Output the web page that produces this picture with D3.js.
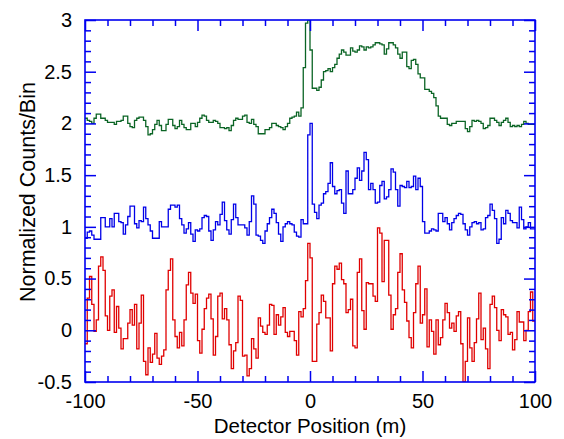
<!DOCTYPE html>
<html>
<head>
<meta charset="utf-8">
<script src="https://cdn.jsdelivr.net/npm/d3@7"></script>
<style>
body { margin: 0; background: #fff; }
svg { font-family: "Liberation Sans", Arial, sans-serif; }
</style>
</head>
<body>
<div id="chart"></div>
<script>
'use strict';

// bins of 1 m, from -100 to 100 (200 bins per trace)
var binStart = -100;
var binWidth = 1;

// green trace (offset around 2)
var greenCounts = [
	2.05, 2.03, 2.02, 2.00, 2.05, 2.09, 2.09, 2.05, 2.05, 2.03,
	2.01, 2.01, 2.01, 1.99, 2.02, 2.02, 2.03, 2.07, 2.07, 2.00,
	1.97, 1.96, 2.03, 2.05, 2.06, 2.06, 2.03, 1.97, 1.89, 1.90,
	1.94, 1.99, 2.03, 1.98, 1.93, 1.93, 1.99, 2.04, 2.04, 1.98,
	1.95, 1.97, 2.03, 1.99, 1.96, 1.94, 1.94, 2.00, 2.00, 1.97,
	2.01, 2.05, 2.08, 2.07, 2.03, 2.01, 2.01, 2.03, 2.02, 2.00,
	1.96, 1.96, 1.95, 1.96, 1.93, 1.98, 2.03, 2.05, 2.04, 2.04,
	2.07, 2.08, 2.01, 2.00, 2.04, 1.99, 1.97, 1.90, 1.90, 1.90,
	1.94, 1.94, 1.96, 2.00, 2.00, 1.98, 1.97, 1.96, 1.94, 1.97,
	2.00, 2.05, 2.06, 2.07, 2.11, 2.07, 2.15, 2.54, 2.97, 3.00,
	2.71, 2.34, 2.34, 2.32, 2.35, 2.42, 2.50, 2.51, 2.53, 2.50,
	2.54, 2.57, 2.63, 2.67, 2.71, 2.69, 2.66, 2.66, 2.73, 2.70,
	2.69, 2.71, 2.75, 2.74, 2.71, 2.74, 2.73, 2.74, 2.76, 2.78,
	2.78, 2.77, 2.76, 2.67, 2.72, 2.78, 2.78, 2.76, 2.73, 2.67,
	2.63, 2.69, 2.69, 2.55, 2.53, 2.61, 2.62, 2.57, 2.48, 2.44,
	2.44, 2.33, 2.33, 2.31, 2.29, 2.25, 2.17, 2.07, 2.05, 2.05,
	2.05, 1.99, 1.98, 2.00, 2.00, 2.02, 2.02, 2.02, 2.02, 1.95,
	1.92, 1.97, 2.03, 2.02, 2.03, 2.02, 2.00, 1.95, 1.96, 1.98,
	2.05, 2.05, 2.03, 2.01, 1.98, 2.01, 2.03, 2.05, 2.01, 1.97,
	1.98, 1.97, 1.98, 1.97, 1.99, 2.02, 2.00, 1.99, 1.99, 1.99
];

// blue trace (offset around 1)
var blueCounts = [
	0.89, 0.95, 0.96, 0.92, 0.88, 0.88, 0.88, 1.09, 1.09, 1.00,
	1.00, 1.08, 1.00, 1.13, 1.13, 1.05, 1.04, 0.93, 1.02, 1.10,
	1.20, 1.20, 1.03, 0.99, 1.06, 1.05, 1.19, 1.08, 1.02, 0.96,
	0.89, 0.89, 0.89, 1.05, 1.00, 1.00, 1.00, 1.17, 1.21, 1.21,
	1.19, 1.21, 1.08, 1.02, 0.94, 0.98, 1.04, 0.93, 0.86, 0.97,
	0.96, 0.98, 1.09, 1.11, 1.10, 0.96, 0.87, 0.97, 1.05, 1.02,
	1.12, 1.24, 1.06, 0.97, 0.93, 1.07, 1.22, 1.09, 1.02, 1.02,
	1.02, 0.99, 0.92, 1.05, 1.30, 1.22, 0.92, 0.91, 0.87, 0.84,
	0.96, 1.03, 1.09, 1.17, 1.13, 1.04, 0.93, 0.86, 1.00, 1.03,
	1.05, 1.03, 1.02, 0.95, 0.91, 0.90, 1.07, 1.03, 1.03, 1.89,
	2.00, 1.22, 1.14, 1.08, 1.21, 1.23, 1.32, 1.34, 1.42, 1.62,
	1.39, 1.32, 1.35, 1.36, 1.23, 1.13, 1.54, 1.32, 1.32, 1.36,
	1.47, 1.57, 1.45, 1.54, 1.72, 1.65, 1.36, 1.42, 1.36, 1.23,
	1.24, 1.40, 1.44, 1.27, 1.29, 1.36, 1.56, 1.53, 1.36, 1.20,
	1.40, 1.39, 1.38, 1.44, 1.38, 1.39, 1.49, 1.36, 1.47, 1.39,
	1.05, 0.94, 0.94, 0.96, 0.98, 0.97, 0.96, 1.13, 1.13, 1.05,
	1.09, 1.03, 0.97, 1.04, 1.08, 1.11, 1.13, 1.12, 1.03, 0.97,
	0.92, 1.00, 1.04, 1.05, 1.03, 1.04, 0.97, 0.98, 1.09, 1.11,
	1.22, 1.16, 1.08, 0.84, 0.88, 1.09, 1.03, 1.16, 1.13, 1.06,
	1.04, 1.04, 0.99, 1.19, 1.07, 0.98, 1.00, 1.04, 0.98, 0.98
];

// red trace (around 0)
var redCounts = [
	-0.13, 0.31, 0.52, 0.25, -0.01, 0.10, 0.62, 0.71, 0.58, 0.14,
	0.00, 0.33, 0.39, -0.02, 0.23, 0.02, -0.18, -0.08, -0.08, 0.07,
	0.20, 0.05, 0.25, -0.18, 0.07, 0.34, -0.30, -0.43, -0.17, -0.31,
	-0.23, -0.03, -0.27, -0.33, -0.25, -0.19, 0.39, 0.58, 0.69, 0.10,
	-0.06, -0.17, -0.02, -0.15, 0.10, 0.44, 0.56, 0.36, 0.26, 0.35,
	-0.10, -0.22, 0.01, 0.21, 0.31, 0.35, 0.11, -0.24, -0.06, 0.33,
	0.36, 0.11, 0.21, 0.10, -0.14, -0.37, -0.20, -0.12, 0.33, 0.29,
	-0.25, -0.24, -0.44, -0.37, -0.08, -0.18, -0.27, 0.12, 0.04, -0.02,
	-0.04, 0.05, 0.25, 0.24, -0.04, 0.15, 0.05, 0.13, 0.22, -0.02,
	-0.06, -0.01, -0.01, -0.10, -0.24, 0.18, 0.13, 0.21, 0.48, 0.84,
	0.70, -0.30, -0.30, 0.06, 0.17, 0.34, 0.28, 0.12, 0.12, -0.20,
	0.45, 0.62, 0.59, 0.65, 0.49, 0.45, 0.17, 0.20, 0.30, -0.15,
	-0.17, 0.56, 0.69, 0.19, 0.01, 0.46, 0.45, 0.45, 0.33, 0.28,
	0.99, 0.94, 0.47, 0.87, 0.87, 0.34, 0.01, 0.15, 0.21, 0.56,
	0.74, 0.39, 0.27, 0.09, -0.07, -0.17, 0.17, 0.45, 0.62, 0.07,
	0.15, 0.40, -0.16, 0.10, -0.01, -0.23, 0.10, -0.14, -0.07, 0.10,
	0.26, 0.17, 0.02, 0.07, -0.01, 0.14, 0.18, -0.13, -0.50, -0.30,
	0.12, -0.17, -0.30, -0.12, 0.11, 0.36, -0.09, 0.02, -0.18, -0.37,
	0.25, 0.33, 0.22, 0.00, -0.10, 0.20, 0.15, 0.13, -0.04, -0.02,
	-0.19, -0.09, 0.18, 0.08, 0.08, -0.10, 0.00, 0.18, 0.37, 0.09
];

// ticks and labels
var xMajorTicks = [-100, -50, 0, 50, 100];
var xTickLabels = ["-100", "-50", "0", "50", "100"];
var yMajorTicks = [-0.5, 0, 0.5, 1, 1.5, 2, 2.5, 3];
var yTickLabels = ["-0.5", "0", "0.5", "1", "1.5", "2", "2.5", "3"];

var width = 564;   // window
var height = 439;
var margin = {top: 20, right: 29, bottom: 57, left: 85};
var plotW = width - margin.left - margin.right;
var plotH = height - margin.top - margin.bottom;

var axisColor = "#0000f0";
var labelSize = 20;

var svg, plot, x, y;

function init() {

	svg = d3.select("#chart")
		.append("svg")
		.attr("width", width)
		.attr("height", height);

	x = d3.scaleLinear().domain([-100, 100]).range([0, plotW]);
	y = d3.scaleLinear().domain([-0.5, 3]).range([plotH, 0]);

	plot = svg.append("g")
		.attr("transform", "translate(" + margin.left + "," + margin.top + ")");

	svg.append("defs").append("clipPath")
		.attr("id", "clip")
		.append("rect")
		.attr("width", plotW)
		.attr("height", plotH);

	drawTrace(redCounts, "#e00000");
	drawTrace(blueCounts, "#0000e8");
	drawTrace(greenCounts, "#0a6424");

	drawAxes();
}

// histogram as a step line, one point per bin edge
function drawTrace(counts, color) {
	var pts = counts.map(function(v, i) {
		return {x: binStart + i * binWidth, v: v};
	});
	pts.push({x: binStart + counts.length * binWidth, v: counts[counts.length - 1]});

	var line = d3.line()
		.curve(d3.curveStepAfter)
		.x(function(d) { return x(d.x); })
		.y(function(d) { return y(d.v); });

	plot.append("path")
		.datum(pts)
		.attr("clip-path", "url(#clip)")
		.attr("fill", "none")
		.attr("stroke", color)
		.attr("stroke-width", 1.3)
		.attr("d", line);
}

function styleAxis(g) {
	g.select(".domain").remove();
	g.selectAll(".tick line").attr("stroke", axisColor).attr("stroke-width", 1.5);
	g.selectAll(".tick text").attr("fill", "#000").attr("font-size", labelSize);
}

function drawAxes() {
	var xMinor = d3.range(-100, 101, 10).filter(function(d) { return xMajorTicks.indexOf(d) < 0; });
	var yMinor = d3.range(-5, 31, 1).map(function(d) { return d / 10; })
		.filter(function(d) { return yMajorTicks.indexOf(d) < 0; });

	var xLabel = function(d) { return xTickLabels[xMajorTicks.indexOf(d)]; };
	var yLabel = function(d) { return yTickLabels[yMajorTicks.indexOf(d)]; };

	// bottom & top
	plot.append("g").attr("transform", "translate(0," + plotH + ")")
		.call(d3.axisBottom(x).tickValues(xMajorTicks).tickSize(-11).tickPadding(12).tickFormat(xLabel))
		.call(styleAxis);
	plot.append("g").attr("transform", "translate(0," + plotH + ")")
		.call(d3.axisBottom(x).tickValues(xMinor).tickSize(-6).tickFormat(""))
		.call(styleAxis);
	plot.append("g")
		.call(d3.axisTop(x).tickValues(xMajorTicks).tickSize(-11).tickFormat(""))
		.call(styleAxis);
	plot.append("g")
		.call(d3.axisTop(x).tickValues(xMinor).tickSize(-6).tickFormat(""))
		.call(styleAxis);

	// left & right
	plot.append("g")
		.call(d3.axisLeft(y).tickValues(yMajorTicks).tickSize(-11).tickPadding(13).tickFormat(yLabel))
		.call(styleAxis);
	plot.append("g")
		.call(d3.axisLeft(y).tickValues(yMinor).tickSize(-6).tickFormat(""))
		.call(styleAxis);
	plot.append("g").attr("transform", "translate(" + plotW + ",0)")
		.call(d3.axisRight(y).tickValues(yMajorTicks).tickSize(-11).tickFormat(""))
		.call(styleAxis);
	plot.append("g").attr("transform", "translate(" + plotW + ",0)")
		.call(d3.axisRight(y).tickValues(yMinor).tickSize(-6).tickFormat(""))
		.call(styleAxis);

	// frame
	plot.append("rect")
		.attr("width", plotW)
		.attr("height", plotH)
		.attr("fill", "none")
		.attr("stroke", axisColor)
		.attr("stroke-width", 1.6);

	// titles
	svg.append("text")
		.attr("x", margin.left + plotW / 2)
		.attr("y", 433)
		.attr("text-anchor", "middle")
		.attr("font-size", 20.5)
		.text("Detector Position (m)");

	svg.append("text")
		.attr("transform", "translate(35,192) rotate(-90)")
		.attr("text-anchor", "middle")
		.attr("font-size", 21.5)
		.text("Normalized Counts/Bin");
}

init();
</script>
</body>
</html>
